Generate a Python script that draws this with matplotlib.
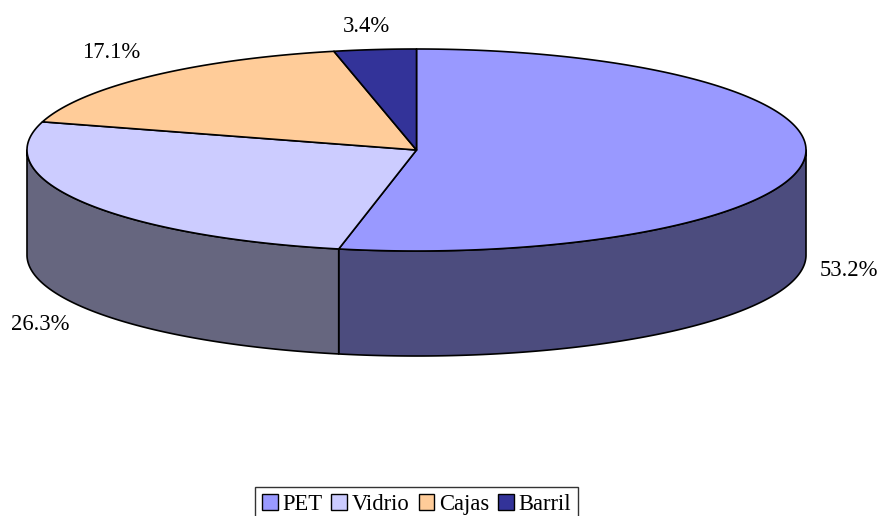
import numpy as np
import matplotlib
matplotlib.use("Agg")
import matplotlib.pyplot as plt
from matplotlib.patches import Polygon, Patch

categories = ["PET", "Vidrio", "Cajas", "Barril"]
values = [53.2, 26.3, 17.1, 3.4]
pct_labels = ["53.2%", "26.3%", "17.1%", "3.4%"]

top_colors = ["#9999FF", "#CCCCFF", "#FFCC99", "#333399"]
side_colors = ["#4C4C7E", "#66667F", "#7F664C", "#1A1A4C"]
label_pos = [(849, 270), (40, 325), (111, 53), (366, 27)]

W, H = 881, 516
fig = plt.figure(figsize=(W / 100, H / 100), dpi=100)
ax = fig.add_axes([0, 0, 1, 1])
ax.set_xlim(0, W)
ax.set_ylim(H, 0)
ax.axis("off")

cx, cy, rx, ry, depth = 416.5, 150.0, 389.5, 101.0, 105.0


def pt(theta_deg, dy=0.0):
    t = np.deg2rad(theta_deg)
    return cx + rx * np.sin(t), cy - ry * np.cos(t) + dy


total = sum(values)
angles = np.cumsum([0] + [v / total * 360 for v in values])

# side walls (visible front half: 90..270 deg clockwise from top)
for i in range(len(values)):
    a, b = angles[i], angles[i + 1]
    lo, hi = max(a, 90), min(b, 270)
    if lo >= hi:
        continue
    th = np.linspace(lo, hi, 200)
    top = [pt(t) for t in th]
    bot = [pt(t, depth) for t in th[::-1]]
    ax.add_patch(Polygon(top + bot, closed=True, facecolor=side_colors[i],
                         edgecolor="black", linewidth=1.2, joinstyle="round"))

# top faces
for i in range(len(values)):
    a, b = angles[i], angles[i + 1]
    th = np.linspace(a, b, 300)
    poly = [(cx, cy)] + [pt(t) for t in th]
    ax.add_patch(Polygon(poly, closed=True, facecolor=top_colors[i],
                         edgecolor="black", linewidth=1.2, joinstyle="round"))

for txt, (x, y) in zip(pct_labels, label_pos):
    ax.text(x, y, txt, ha="center", va="center", fontsize=16.3,
            family="Liberation Serif", color="black")

handles = [Patch(facecolor=c, edgecolor="black", linewidth=1.0) for c in top_colors]
leg = fig.legend(handles, categories, loc="upper center",
                 bbox_to_anchor=(416.5 / W, 1 - 487 / H), ncol=4,
                 frameon=True, fancybox=False, shadow=False,
                 prop={"family": "Liberation Serif", "size": 16.3},
                 handlelength=0.7, handleheight=0.7, handletextpad=0.2,
                 columnspacing=0.4, borderpad=0.3, borderaxespad=0)
leg.get_frame().set_edgecolor("black")
leg.get_frame().set_linewidth(1.0)

fig.savefig("out.png", dpi=100)
